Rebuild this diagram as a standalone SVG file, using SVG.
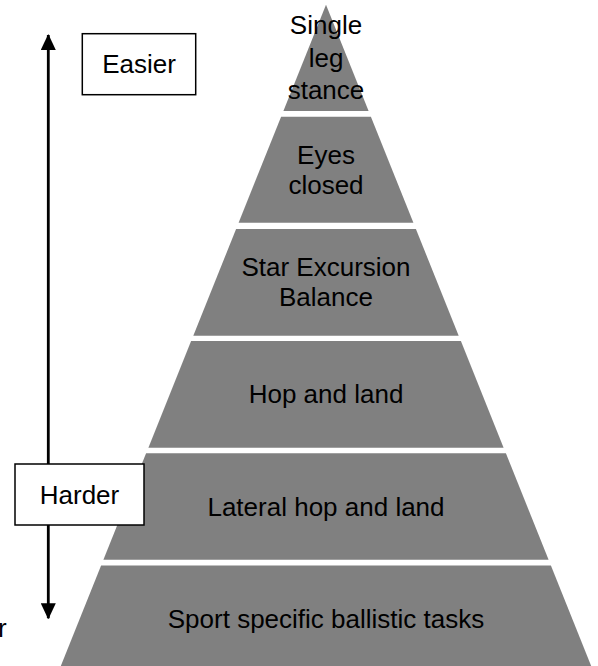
<svg xmlns="http://www.w3.org/2000/svg" width="598" height="666" viewBox="0 0 598 666">
  <defs>
    <style>
      .layer { fill: #808080; }
      .lbl { font-family: "Liberation Sans", Arial, sans-serif; font-size: 26px; fill: #000; text-anchor: middle; }
      .box { fill: #fff; stroke: #000; stroke-width: 1.5; }
      .conn { stroke: #000; stroke-width: 2.8; fill: none; }
    </style>
    <marker id="ah" viewBox="0 0 16 15" refX="15" refY="7.5" markerWidth="16" markerHeight="15" markerUnits="userSpaceOnUse" orient="auto">
      <path d="M0,0 L16,7.5 L0,15 Z" fill="#000"/>
    </marker>
  </defs>
  <rect width="598" height="666" fill="#fff"/>

  <g id="layer1">
    <polygon class="layer" points="326,4.7 368.6,111 283.4,111"/>
    <text class="lbl" x="326" y="34.3">Single</text>
    <text class="lbl" x="326" y="66.7">leg</text>
    <text class="lbl" x="326" y="99">stance</text>
  </g>
  <g id="layer2">
    <polygon class="layer" points="281.1,116.7 370.9,116.7 413.4,222.7 238.6,222.7"/>
    <text class="lbl" x="326" y="164.3">Eyes</text>
    <text class="lbl" x="326" y="194.3">closed</text>
  </g>
  <g id="layer3">
    <polygon class="layer" points="236.1,229 415.9,229 458.7,335.7 193.3,335.7"/>
    <text class="lbl" x="326" y="276.1">Star Excursion</text>
    <text class="lbl" x="326" y="306.3">Balance</text>
  </g>
  <g id="layer4">
    <polygon class="layer" points="191.1,341 460.9,341 503.6,447.7 148.4,447.7"/>
    <text class="lbl" x="326" y="403.3">Hop and land</text>
  </g>
  <g id="layer5">
    <polygon class="layer" points="146.1,453.3 505.9,453.3 548.6,559.7 103.4,559.7"/>
    <text class="lbl" x="326" y="515.5">Lateral hop and land</text>
  </g>
  <g id="layer6">
    <polygon class="layer" points="101.1,565.5 550.9,565.5 596.8,680 55.2,680"/>
    <text class="lbl" x="326" y="627.5">Sport specific ballistic tasks</text>
  </g>

  <g id="connectors">
    <line class="conn" x1="48.3" y1="326" x2="48.3" y2="35" marker-end="url(#ah)"/>
    <line class="conn" x1="48.3" y1="326" x2="48.3" y2="618.3" marker-end="url(#ah)"/>
  </g>

  <g id="easier">
    <rect class="box" x="82.3" y="33.7" width="113.4" height="61"/>
    <text class="lbl" x="139" y="72.7">Easier</text>
  </g>
  <g id="harder">
    <rect class="box" x="15" y="464" width="129" height="61"/>
    <text class="lbl" x="79.5" y="504">Harder</text>
  </g>

  <text class="lbl" x="-2" y="637" style="text-anchor:start">r</text>
</svg>
